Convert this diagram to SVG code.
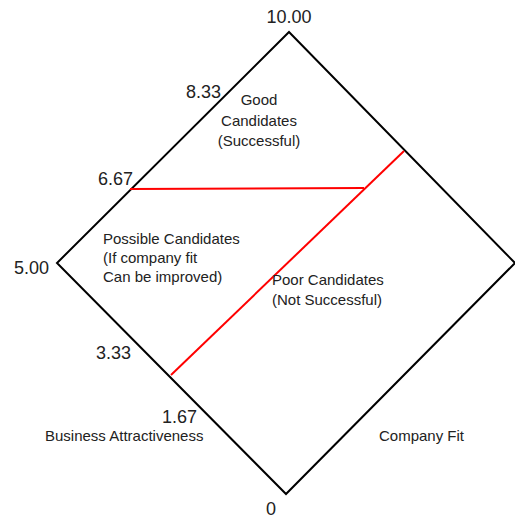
<svg xmlns="http://www.w3.org/2000/svg" width="515" height="520" viewBox="0 0 515 520">
<style>
text{font-family:"Liberation Sans","Open Sans",sans-serif;fill:#222}
.n{font-size:18px}
.l{font-size:15px}
.k{stroke:#000;stroke-width:2;fill:none}
.r{stroke:#ff0000;stroke-width:2;fill:none}
</style>
<rect width="515" height="520" fill="#fff"/>
<g id="diamond"><polygon class="k" points="289,32 515,263 286,494 57,263"/></g>
<g id="connectors">
<line class="r" x1="130" y1="189" x2="364" y2="188"/>
<line class="r" x1="404" y1="151" x2="171" y2="375"/>
</g>
<g id="axis-labels">
<text class="n" x="289" y="23" text-anchor="middle">10.00</text>
<text class="n" x="14" y="274">5.00</text>
<text class="n" x="266" y="515">0</text>
<text class="n" x="186" y="98">8.33</text>
<text class="n" x="98" y="185">6.67</text>
<text class="n" x="96" y="359">3.33</text>
<text class="n" x="162" y="423">1.67</text>
</g>
<g id="good"><text class="l" text-anchor="middle"><tspan x="259" y="105">Good</tspan><tspan x="259" y="126">Candidates</tspan><tspan x="259" y="146">(Successful)</tspan></text></g>
<g id="possible"><text class="l"><tspan x="103" y="244">Possible Candidates</tspan><tspan x="103" y="263">(If company fit</tspan><tspan x="103" y="282">Can be improved)</tspan></text></g>
<g id="poor"><text class="l"><tspan x="272" y="285">Poor Candidates</tspan><tspan x="272" y="305">(Not Successful)</tspan></text></g>
<g id="business"><text class="l" x="45" y="441">Business Attractiveness</text></g>
<g id="company"><text class="l" x="379" y="441">Company Fit</text></g>
</svg>
